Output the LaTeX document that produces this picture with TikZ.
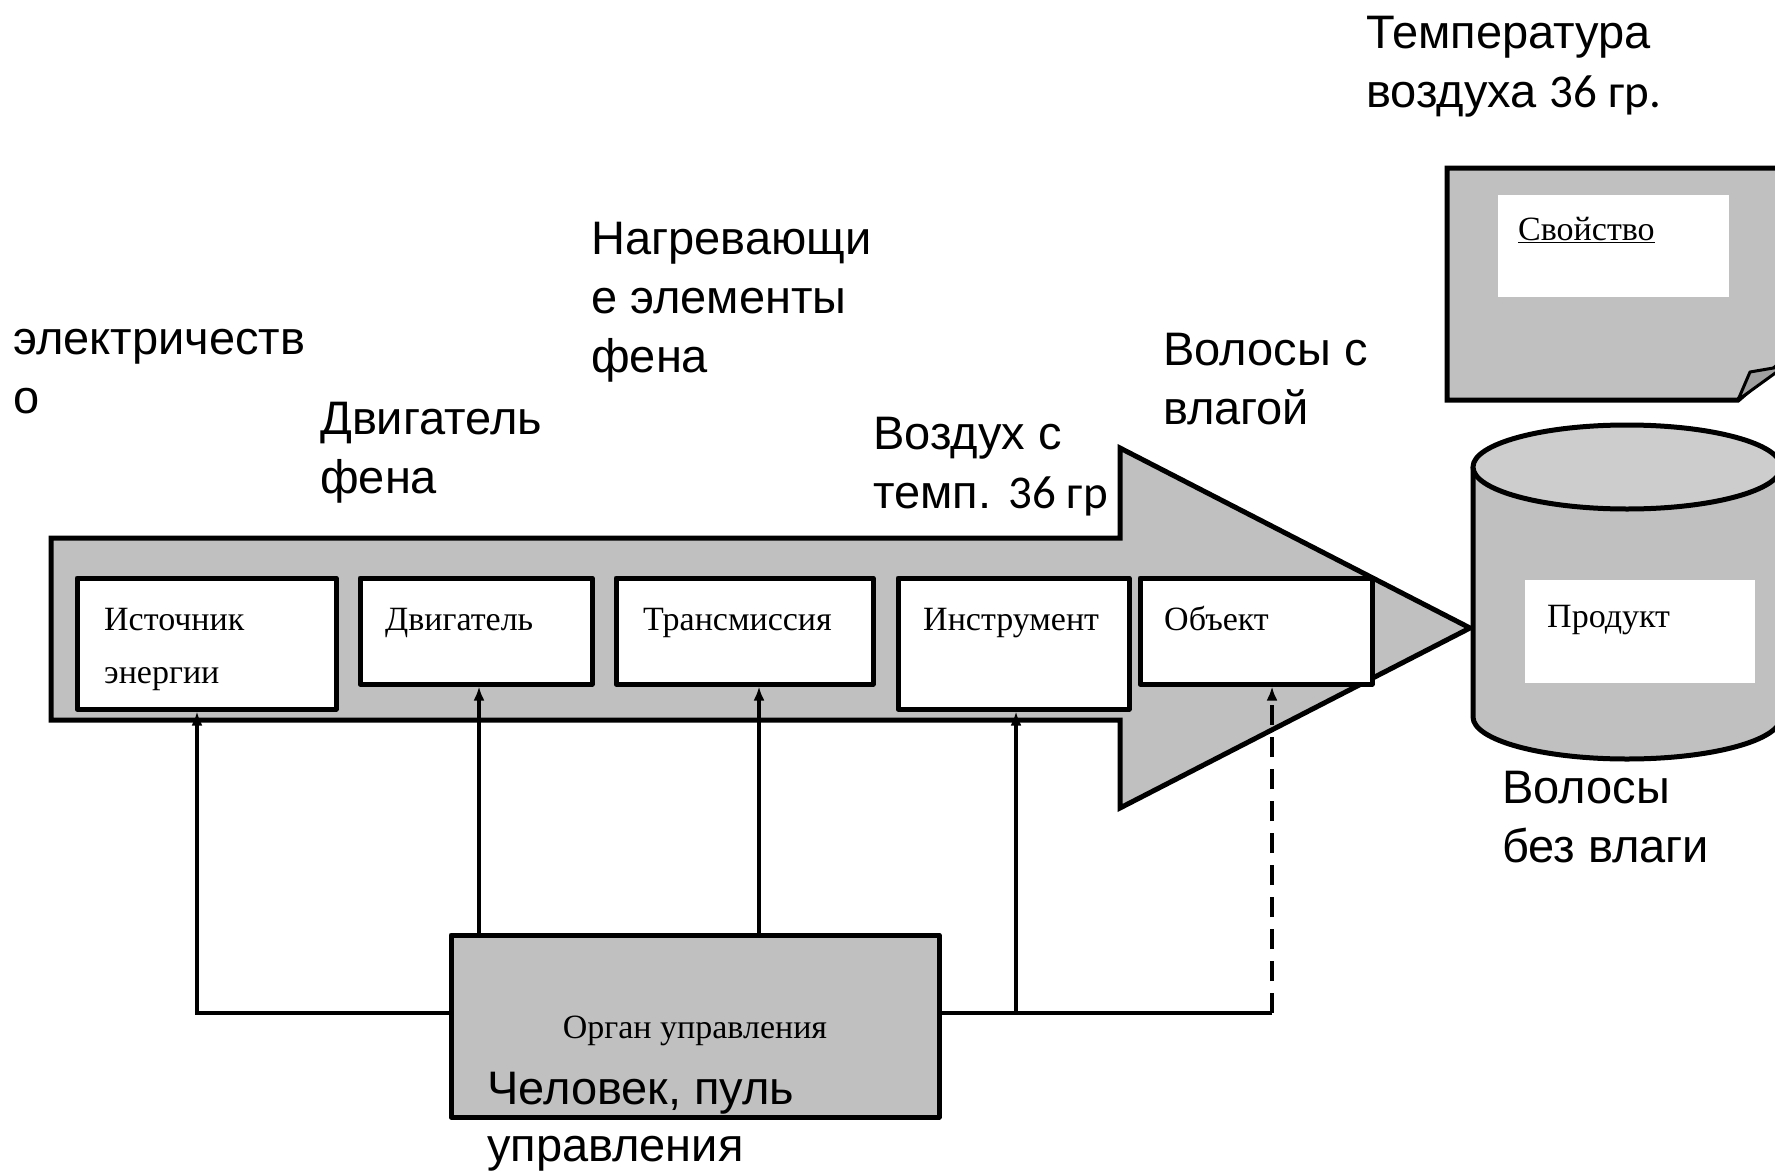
\documentclass[tikz,border=0pt]{standalone}
\usepackage{fontspec}
\setmainfont{Liberation Serif}
\newfontfamily\labfont{Liberation Sans}
\newfontfamily\numfont{Carlito}
\usetikzlibrary{arrows.meta}
\definecolor{fillgray}{HTML}{C0C0C0}
\definecolor{topgray}{HTML}{CDCDCD}
\definecolor{curlgray}{HTML}{A0A0A0}
\begin{document}
\begin{tikzpicture}[x=1pt,y=-1pt,
  blk/.style={draw=black,line width=5pt,fill=white,inner sep=0pt,line join=round},
  boxtxt/.style={inner sep=0pt,anchor=north west,font=\fontsize{34}{53}\selectfont,align=left},
  lbl/.style={inner sep=0pt,anchor=north west,align=left,font=\labfont\fontsize{47}{59}\selectfont},
  conn/.style={line width=3.5pt,-{Latex[length=14pt,width=11pt]}},
  plain/.style={line width=3.5pt}]
\useasboundingbox (0,0) rectangle (1775,1172);
\fill[white] (0,0) rectangle (1775,1172);

% big arrow
\draw[line width=5pt,fill=fillgray,line join=miter]
  (51,538) -- (1120,538) -- (1120,448) -- (1470,628) -- (1120,808) -- (1120,720) -- (51,720) -- cycle;

% property document
\draw[line width=5pt,fill=fillgray] (1790,168) -- (1447,168) -- (1447,400) -- (1738,400) -- (1790,355);
\draw[line width=3pt,fill=curlgray,line join=round] (1738,400) -- (1750,372) -- (1785,366) -- cycle;
\node[fill=white,minimum width=231pt,minimum height=102pt,inner sep=0pt] (prop) at (1613.5,246) {};
\node[inner sep=0pt,anchor=base west,font=\fontsize{34}{40}\selectfont] (proptxt) at (1518,240) {\underline{Свойство}};

% cylinder (product)
\fill[fillgray] (1473,467) -- (1473,717) arc[start angle=180,end angle=0,x radius=154,y radius=42] -- (1781,467) -- cycle;
\draw[line width=5pt] (1473,467) -- (1473,717) arc[start angle=180,end angle=0,x radius=154,y radius=42];
\draw[line width=5pt,fill=topgray] (1627,467) ellipse [x radius=154,y radius=42];
\node[fill=white,minimum width=230pt,minimum height=103pt,inner sep=0pt] (prod) at (1640,631.5) {};
\node[inner sep=0pt,anchor=base west,font=\fontsize{34}{40}\selectfont] (prodtxt) at (1547,627) {Продукт};

% function blocks
\node[blk,minimum width=259pt,minimum height=131pt] (src) at (206.5,643.5) {};
\node[blk,minimum width=232pt,minimum height=106pt] (eng) at (476,631) {};
\node[blk,minimum width=257pt,minimum height=106pt] (trn) at (744.5,631) {};
\node[blk,minimum width=231pt,minimum height=131pt] (ins) at (1013.5,643.5) {};
\node[blk,minimum width=232pt,minimum height=106pt] (obj) at (1256,631) {};

\node[boxtxt] (srctxt) at (104,593) {\strut Источник\\\strut энергии};
\node[boxtxt] (engtxt) at (385,593) {\strut Двигатель};
\node[boxtxt] (trntxt) at (643,593) {\strut Трансмиссия};
\node[boxtxt] (instxt) at (923,593) {\strut Инструмент};
\node[boxtxt] (objtxt) at (1164,593) {\strut Объект};

% control unit
\node[blk,fill=fillgray,minimum width=488pt,minimum height=182pt] (ctl) at (695,1026) {};
\node[inner sep=0pt,anchor=base,font=\fontsize{34}{40}\selectfont] (ctltxt) at (695,1038) {Орган управления};

% connectors
\coordinate (j1) at (197,1013);
\coordinate (x2) at (479,0);
\coordinate (x3) at (759,0);
\coordinate (j4) at (1016,1013);
\coordinate (j5) at (1272,1013);
\draw[conn] (ctl.west |- j1) -- (j1) -- (j1 |- src.south);
\draw[conn] (x2 |- ctl.north) -- (x2 |- eng.south);
\draw[conn] (x3 |- ctl.north) -- (x3 |- trn.south);
\draw[plain] (ctl.east |- j4) -- (j5);
\draw[conn] (j4) -- (j4 |- ins.south);
\draw[conn,line width=4pt,dash pattern=on 20pt off 12pt] (j5) -- (j5 |- obj.south);

% labels
\node[lbl] (l1) at (1366,7) {\strut Температура\\\strut воздуха {\numfont 36 гр.}};
\node[lbl] (l2) at (13,313) {\strut электричеств\\\strut о};
\node[lbl] (l3) at (320,393) {\strut Двигатель\\\strut фена};
\node[lbl] (l4) at (591,213) {\strut Нагревающи\\\strut е элементы\\\strut фена};
\node[lbl] (l5) at (873,408) {\strut Воздух с\\\strut темп. {\numfont 36 гр}};
\node[lbl] (l6) at (1163,324) {\strut Волосы с\\\strut влагой};
\node[lbl] (l7) at (1502,762) {\strut Волосы\\\strut без влаги};
\node[lbl,font=\labfont\fontsize{47}{57}\selectfont] (l8) at (487,1064) {\strut Человек, пуль\\\strut управления};
\end{tikzpicture}
\end{document}
